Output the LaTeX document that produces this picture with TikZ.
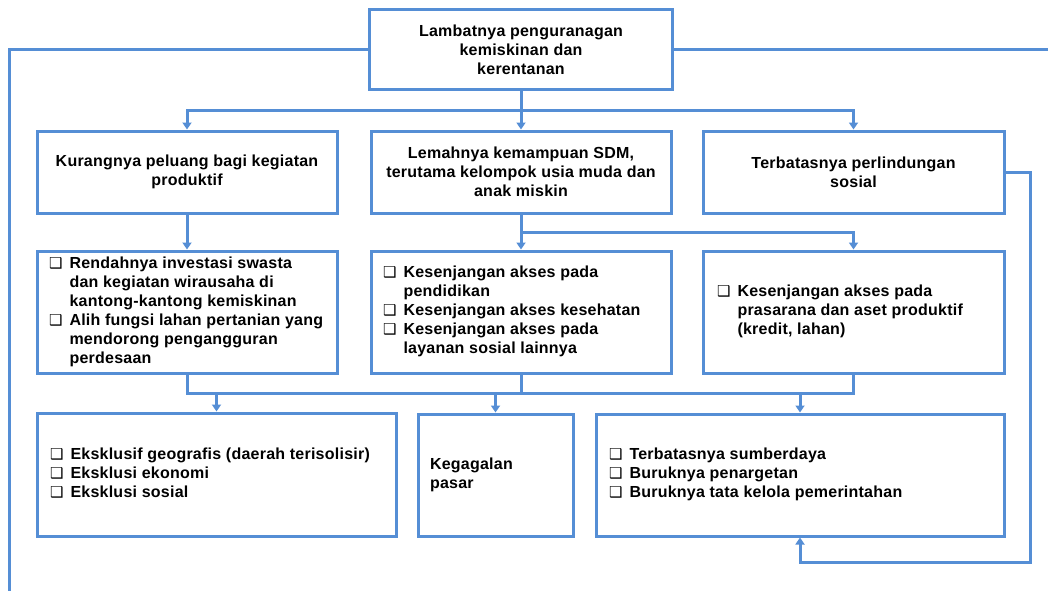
\documentclass[tikz,border=0pt]{standalone}
\usepackage{fontspec}
\setmainfont{Liberation Sans}[LetterSpace=1.5]
\newfontfamily\symfont{DejaVu Sans}
\usetikzlibrary{arrows.meta}
\definecolor{lineblue}{HTML}{558ED5}
\newcommand\blt{\makebox[20.5pt][l]{\raisebox{0pt}{\symfont\fontsize{15}{15}\selectfont ❑}}}
\newcommand\ind{\hspace*{20.5pt}}
\begin{document}
\begin{tikzpicture}[x=1pt,y=-1pt,
  box/.style={draw=lineblue, line width=3pt, fill=white, inner sep=0pt,
    font=\fontsize{16}{19}\selectfont\bfseries},
  conn/.style={draw=lineblue, line width=3pt},
  arr/.style={conn, -{Triangle[width=9pt,length=7pt]}}]
\useasboundingbox (0,0) rectangle (1048,591);

% level 0
\node[box, minimum width=303pt, minimum height=80pt, align=center] (T) at (521,50)
  {Lambatnya penguranagan\\kemiskinan dan\\kerentanan};

% level 1
\node[box, minimum width=300pt, minimum height=82pt, align=center] (A) at (187,172)
  {Kurangnya peluang bagi kegiatan\\produktif};
\node[box, minimum width=300pt, minimum height=82pt, align=center] (B) at (521,172)
  {Lemahnya kemampuan SDM,\\terutama kelompok usia muda dan\\anak miskin};
\node[box, minimum width=301pt, minimum height=82pt, align=center] (C) at (853.5,172)
  {Terbatasnya perlindungan\\sosial};

% level 2
\node[box, minimum width=300pt, minimum height=122pt] (D) at (187,312)
  {\makebox[300pt][l]{\hspace*{12pt}\begin{tabular}{@{}l@{}}
   \blt Rendahnya investasi swasta\\
   \ind dan kegiatan wirausaha di\\
   \ind kantong-kantong kemiskinan\\
   \blt Alih fungsi lahan pertanian yang\\
   \ind mendorong pengangguran\\
   \ind perdesaan\end{tabular}}};
\node[box, minimum width=300pt, minimum height=122pt] (E) at (521,312)
  {\makebox[300pt][l]{\hspace*{12pt}\begin{tabular}{@{}l@{}}
   \blt Kesenjangan akses pada\\
   \ind pendidikan\\
   \blt Kesenjangan akses kesehatan\\
   \blt Kesenjangan akses pada\\
   \ind layanan sosial lainnya\end{tabular}}};
\node[box, minimum width=301pt, minimum height=122pt] (F) at (853.5,312)
  {\makebox[301pt][l]{\hspace*{14pt}\begin{tabular}{@{}l@{}}
   \blt Kesenjangan akses pada\\
   \ind prasarana dan aset produktif\\
   \ind (kredit, lahan)\end{tabular}}};

% level 3
\node[box, minimum width=359pt, minimum height=123pt] (G) at (216.5,474.5)
  {\makebox[359pt][l]{\hspace*{13pt}\begin{tabular}{@{}l@{}}
   \blt Eksklusif geografis (daerah terisolisir)\\
   \blt Eksklusi ekonomi\\
   \blt Eksklusi sosial\end{tabular}}};
\node[box, minimum width=155pt, minimum height=122pt] (H) at (495.5,475)
  {\makebox[155pt][l]{\hspace*{12pt}\begin{tabular}{@{}l@{}}
   Kegagalan\\
   pasar\end{tabular}}};
\node[box, minimum width=408pt, minimum height=122pt] (I) at (800,475)
  {\makebox[408pt][l]{\hspace*{13pt}\begin{tabular}{@{}l@{}}
   \blt Terbatasnya sumberdaya\\
   \blt Buruknya penargetan\\
   \blt Buruknya tata kelola pemerintahan\end{tabular}}};

% connectors
\coordinate (lend) at (9,591);
\coordinate (rend) at (1048,50);
\coordinate (j1) at (521,111);
\coordinate (j2) at (521,232);
\coordinate (bus) at (0,393);
\coordinate (rl) at (1030,562);

\draw[conn] (T.west) -| (lend);
\draw[conn] (T.east) -- (rend);
\draw[conn] (T.south) -- (j1);
\draw[arr] (j1) -- (B.north);
\draw[arr] (j1) -| (A.north);
\draw[arr] (j1) -| (C.north);

\draw[arr] (A.south) -- (D.north);
\draw[arr] (B.south) -- (E.north);
\draw[arr] (j2) -| (F.north);

\draw[conn] (D.south) -- (D.south |- bus) -| (F.south);
\draw[conn] (E.south) -- (E.south |- bus);
\draw[arr] (G.north |- bus) -- (G.north);
\draw[arr] (H.north |- bus) -- (H.north);
\draw[arr] (I.north |- bus) -- (I.north);

\draw[arr] (C.east) -| (rl) -| (I.south);
\end{tikzpicture}
\end{document}
